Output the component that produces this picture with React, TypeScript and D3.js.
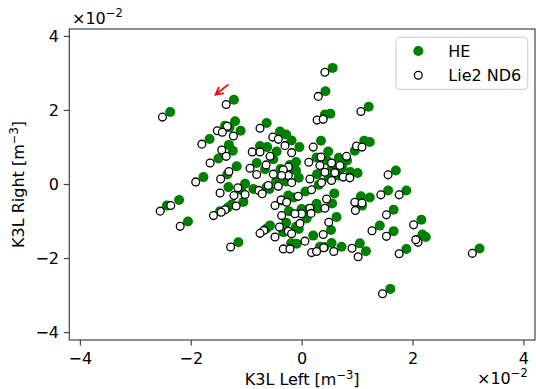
import React from "react";
import * as d3 from "d3";

const HE_X = [-2.38,-1.23,-1.21,-1.39,-1.31,-1.11,-1.67,-0.64,-1.32,-1.25,-1.51,-1.18,-1.78,-0.76,-0.63,-0.82,-0.67,-0.52,-0.39,-0.40,-0.29,-0.19,-0.46,-1.35,-1.33,-1.10,-1.03,-0.88,-0.64,-0.47,-0.29,-2.22,-2.44,-2.06,-1.15,-1.06,-1.27,-1.34,-1.48,-0.37,-0.25,-0.24,-0.58,-0.64,-0.29,-0.34,-0.11,-0.20,0.55,0.42,0.41,0.51,1.20,-0.05,0.34,0.47,0.95,1.12,1.22,0.26,0.45,0.66,0.81,0.54,0.72,0.87,1.00,0.66,0.27,-0.11,-0.11,-0.06,0.48,1.69,1.88,1.55,0.30,0.06,-0.15,0.58,1.06,1.22,0.26,0.12,-0.01,0.29,0.54,0.62,0.08,1.08,-0.06,0.20,0.52,1.40,1.65,1.65,2.15,2.23,2.17,1.88,3.20,1.59,1.15,1.04,0.71,0.53,0.32,0.40,-0.10,-0.22,-0.24,-0.59];
const HE_Y = [1.96,2.29,1.71,1.59,1.54,1.45,1.23,1.66,1.07,0.91,0.70,0.49,0.20,1.04,1.01,0.58,0.41,0.68,0.42,1.43,1.35,1.19,0.89,0.27,-0.07,-0.15,0.02,-0.12,-0.07,0.08,0.08,-0.42,-0.57,-1.00,-1.56,-0.47,-0.54,-0.62,-0.72,-0.43,-0.30,-0.72,-1.11,-1.19,-1.03,-1.29,-1.14,-1.59,3.15,2.52,1.89,1.91,2.10,1.01,1.18,0.89,0.91,1.18,1.15,0.73,0.65,0.72,0.65,0.46,0.45,0.34,0.31,0.24,0.28,0.61,0.38,0.18,0.18,0.38,-0.16,-0.16,-0.01,-0.19,-0.35,-0.24,-0.32,-0.35,-0.52,-0.66,-0.66,-0.65,-0.51,-0.88,-0.92,-0.57,-1.20,-1.38,-1.23,-1.11,-1.26,-0.68,-0.95,-1.42,-1.35,-1.74,-1.73,-2.82,-1.80,-1.59,-1.68,-1.58,-1.68,-1.69,-1.60,0.53,0.38,-0.12];
const LIE_X = [-2.52,-1.37,-1.35,-1.53,-1.44,-1.24,-1.81,-0.76,-1.45,-1.37,-1.66,-1.32,-1.92,-0.90,-0.76,-0.94,-0.82,-0.65,-0.52,-0.53,-0.43,-0.31,-0.58,-1.47,-1.48,-1.23,-1.16,-1.03,-0.78,-0.61,-0.43,-2.37,-2.56,-2.20,-1.29,-1.19,-1.39,-1.46,-1.60,-0.49,-0.38,-0.37,-0.69,-0.76,-0.41,-0.49,-0.25,-0.34,0.41,0.29,0.27,0.38,1.06,-0.19,0.20,0.34,0.80,0.98,1.08,0.12,0.32,0.53,0.68,0.41,0.59,0.74,0.86,0.53,0.14,-0.25,-0.25,-0.19,0.35,1.55,1.75,1.42,0.17,-0.07,-0.28,0.44,0.95,1.08,0.14,-0.01,-0.13,0.16,0.41,0.48,-0.04,0.96,-0.19,0.05,0.38,1.26,1.52,1.52,2.01,2.09,2.05,1.75,3.07,1.45,1.01,0.90,0.57,0.39,0.17,0.26,-0.22,-0.34,-0.37,-0.72];
const LIE_Y = [1.82,2.16,1.57,1.45,1.41,1.31,1.09,1.52,0.93,0.76,0.58,0.35,0.07,0.88,0.88,0.44,0.27,0.53,0.28,1.28,1.22,1.05,0.76,0.15,-0.23,-0.30,-0.09,-0.27,-0.16,-0.03,-0.05,-0.57,-0.72,-1.13,-1.69,-0.58,-0.68,-0.75,-0.84,-0.57,-0.42,-0.84,-1.24,-1.32,-1.15,-1.42,-1.26,-1.74,3.03,2.38,1.74,1.76,1.97,0.86,1.01,0.74,0.76,1.04,1.01,0.60,0.51,0.58,0.51,0.33,0.32,0.20,0.18,0.11,0.15,0.47,0.24,0.05,0.05,0.26,-0.28,-0.28,-0.14,-0.32,-0.48,-0.39,-0.48,-0.50,-0.64,-0.79,-0.79,-0.78,-0.64,-1.02,-1.05,-0.70,-1.33,-1.53,-1.35,-1.25,-1.40,-0.82,-1.09,-1.56,-1.49,-1.87,-1.86,-2.95,-1.95,-1.72,-1.81,-1.71,-1.84,-1.81,-1.74,0.40,0.24,-0.25];

const X_TICKS = [-4, -2, 0, 2, 4];
const Y_TICKS = [-4, -2, 0, 2, 4];
const DOMAIN: [number, number] = [-4.2, 4.2];
const SERIES_NAMES = ["HE", "Lie2 ND6"];
// annotation arrow (tail -> head), in units of 1e-2
const ARROW_TAIL = [-1.34, 2.69];
const ARROW_HEAD = [-1.56, 2.43];

const W = 536, H = 389;
const M = { left: 69.3, right: 535, top: 29, bottom: 340 };
const FONT = "DejaVu Sans, sans-serif";
const FS = 16;

function fmt(v: number) {
  return v < 0 ? "\u2212" + Math.abs(v) : String(v);
}

export default function App() {
  const x = d3.scaleLinear().domain(DOMAIN).range([M.left, M.right]);
  const y = d3.scaleLinear().domain(DOMAIN).range([M.bottom, M.top]);
  const he = HE_X.map((v, i) => [v, HE_Y[i]]);
  const lie = LIE_X.map((v, i) => [v, LIE_Y[i]]);
  const spine = "#444";

  const ax0 = x(ARROW_TAIL[0]), ay0 = y(ARROW_TAIL[1]);
  const ax1 = x(ARROW_HEAD[0]), ay1 = y(ARROW_HEAD[1]);
  const ang = Math.atan2(ay0 - ay1, ax0 - ax1);
  const hl = 7.5;
  const h1 = [ax1 + hl * Math.cos(ang + 0.5), ay1 + hl * Math.sin(ang + 0.5)];
  const h2 = [ax1 + hl * Math.cos(ang - 0.5), ay1 + hl * Math.sin(ang - 0.5)];

  return (
    <svg width={W} height={H} style={{ position: "absolute", left: 0, top: 0, background: "#fff" }} fontFamily={FONT}>
      <rect x={0} y={0} width={W} height={H} fill="#fff" />
      <g>
        {he.map((d, i) => (
          <circle key={"h" + i} cx={x(d[0])} cy={y(d[1])} r={5} fill="#008000" />
        ))}
      </g>
      <g>
        {lie.map((d, i) => (
          <circle key={"l" + i} cx={x(d[0])} cy={y(d[1])} r={3.9} fill="#fff" stroke="#000" strokeWidth={1.3} />
        ))}
      </g>
      <g stroke="#ff0000" strokeWidth={1.8} fill="none" strokeLinecap="round">
        <line x1={ax0} y1={ay0} x2={ax1} y2={ay1} />
        <polyline points={`${h1[0]},${h1[1]} ${ax1},${ay1} ${h2[0]},${h2[1]}`} />
      </g>
      <rect x={M.left} y={M.top} width={M.right - M.left} height={M.bottom - M.top} fill="none" stroke={spine} strokeWidth={1.2} />
      {X_TICKS.map((t) => (
        <g key={"xt" + t}>
          <line x1={x(t)} x2={x(t)} y1={M.bottom} y2={M.bottom + 5.5} stroke={spine} strokeWidth={1.2} />
          <text x={x(t)} y={363.5} fontSize={FS} textAnchor="middle" fill="#000">{fmt(t)}</text>
        </g>
      ))}
      {Y_TICKS.map((t) => (
        <g key={"yt" + t}>
          <line x1={M.left} x2={M.left - 5.5} y1={y(t)} y2={y(t)} stroke={spine} strokeWidth={1.2} />
          <text x={59} y={y(t) + 5.8} fontSize={FS} textAnchor="end" fill="#000">{fmt(t)}</text>
        </g>
      ))}
      <text x={72} y={24} fontSize={FS} fill="#000">
        ×10<tspan dy={-7} fontSize={11.5}>−2</tspan>
      </text>
      <text x={477} y={384} fontSize={FS} fill="#000">
        ×10<tspan dy={-7} fontSize={11.5}>−2</tspan>
      </text>
      <text x={(M.left + M.right) / 2} y={384.5} fontSize={FS} textAnchor="middle" fill="#000">
        K3L Left [m<tspan dy={-6} fontSize={11.5}>−3</tspan><tspan dy={6}>]</tspan>
      </text>
      <text transform={`translate(24,${(M.top + M.bottom) / 2}) rotate(-90)`} fontSize={FS} textAnchor="middle" fill="#000">
        K3L Right [m<tspan dy={-6} fontSize={11.5}>−3</tspan><tspan dy={6}>]</tspan>
      </text>
      <g>
        <rect x={396} y={37.3} width={131.7} height={52} rx={3.5} fill="#fff" fillOpacity={0.8} stroke="#cccccc" strokeWidth={1} />
        <circle cx={418.3} cy={51} r={5} fill="#008000" />
        <circle cx={418.3} cy={75.3} r={3.9} fill="#fff" stroke="#000" strokeWidth={1.3} />
        <text x={448.3} y={56.8} fontSize={FS} fill="#000">{SERIES_NAMES[0]}</text>
        <text x={448.3} y={81.1} fontSize={FS} fill="#000">{SERIES_NAMES[1]}</text>
      </g>
    </svg>
  );
}
